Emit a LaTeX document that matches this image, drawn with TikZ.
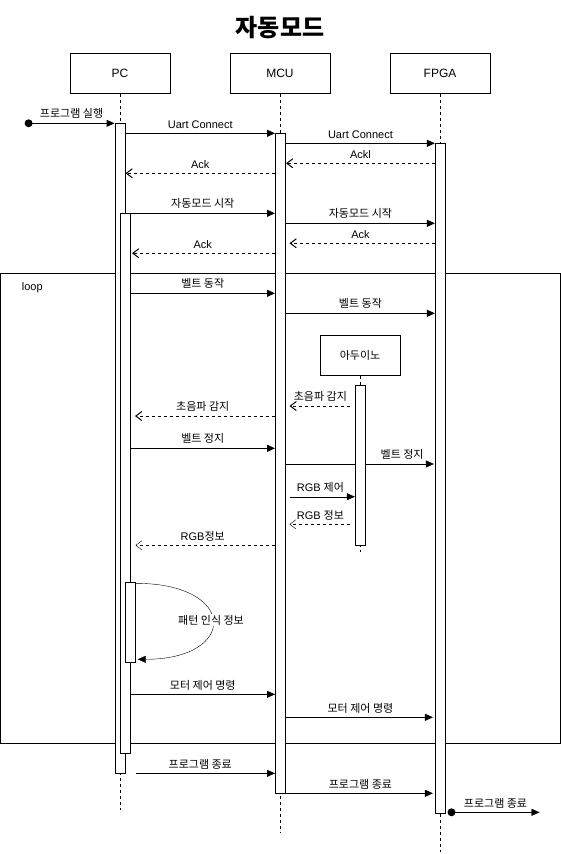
\documentclass[tikz,border=0pt]{standalone}
\usepackage{fontspec}
\setmainfont{Liberation Sans}
\newfontfamily\kr{Noto Sans CJK KR}
\usetikzlibrary{arrows.meta,backgrounds}

\begin{document}
\begin{tikzpicture}[x=1pt, y=-1pt, line width=1pt,
  font=\fontsize{11}{13}\selectfont,
  header/.style={draw, minimum width=100pt, minimum height=40pt, inner sep=0pt, font=\fontsize{12}{14}\selectfont},
  life/.style={dash pattern=on 3pt off 3pt},
  act/.style={draw, fill=white, minimum width=10pt, inner sep=0pt, anchor=north},
  msg/.style={-{Triangle[length=8pt,width=7pt]}},
  reply/.style={dash pattern=on 3pt off 3pt, -{Straight Barb[length=6pt,width=9pt]}},
  lbl/.style={above=4pt, inner sep=0pt},
  kor/.style={font=\kr\fontsize{11}{13}\selectfont}]

\useasboundingbox (0,0) rectangle (561,854);

% Title
\node[font=\kr\fontsize{24}{28}\selectfont\bfseries] (title) at (280,28) {자동모드};

% Participants
\foreach \name/\x/\txt in {pc/120/PC, mcu/280/MCU, fpga/440/FPGA} {
  \node[header] (\name) at (\x,73) {\txt};
}

% Loop Frame
\draw (0.5,273.3) rectangle (560,743.3);
\node[anchor=west] (looplbl) at (18,288) {loop};

% Lifelines
\draw[life] (pc.south) -- (pc.south |- 0,810);
\draw[life] (mcu.south) -- (mcu.south |- 0,833);
\draw[life] (fpga.south) -- (fpga.south |- 0,852);

% Arduino (inside the loop)
\node[header, minimum width=80pt, kor] (ard) at (360,355) {아두이노};
\draw[life] (ard.south) -- (ard.south |- 0,552);

% Activation Bars
\node[act, minimum height=650pt] (pcA1) at (120,123.3) {};
\node[act, minimum height=540pt] (pcA2) at (125,213.3) {};
\node[act, minimum height=80pt] (pcA3) at (130,582.3) {};
\node[act, minimum height=660pt] (mcuA) at (280.5,133.3) {};
\node[act, minimum height=670pt] (fpgaA) at (440.4,143.3) {};
\node[act, minimum height=160pt] (ardA) at (360.3,385.3) {};

% Start / End Points
\coordinate (startpt) at (28.6,123.3);
\coordinate (endpt) at (451.5,812.3);
\coordinate (exitpt) at (539.5,812.3);
\fill (startpt) circle (4pt);
\fill (endpt) circle (4pt);

% Connect
\draw[msg] (startpt) -- node[lbl, kor] {프로그램 실행} (pcA1.west |- startpt);
\draw[msg] (pcA1.east |- 0,133.3) -- node[lbl] {Uart Connect} (mcuA.west |- 0,133.3);
\draw[msg] (mcuA.east |- 0,143.3) -- node[lbl] {Uart Connect} (fpgaA.west |- 0,143.3);
\draw[reply] (fpgaA.west |- 0,163.3) -- node[lbl] {Ackl} (mcuA.east |- 0,163.3);
\draw[reply] (mcuA.west |- 0,173.3) -- node[lbl] {Ack} (pcA1.east |- 0,173.3);

% Auto Mode Start
\draw[msg] (pcA2.east |- 0,213.3) -- node[lbl, kor] {자동모드 시작} (mcuA.west |- 0,213.3);
\draw[msg] (mcuA.east |- 0,223.3) -- node[lbl, kor] {자동모드 시작} (fpgaA.west |- 0,223.3);
\draw[reply, shorten >=3.5pt] (fpgaA.west |- 0,243.3) -- node[lbl] {Ack} (mcuA.east |- 0,243.3);
\draw[reply, shorten >=1.5pt] (mcuA.west |- 0,253.3) -- node[lbl] {Ack} (pcA2.east |- 0,253.3);

% Loop Body
\draw[msg] (pcA2.east |- 0,293.3) -- node[lbl, kor] {벨트 동작} (mcuA.west |- 0,293.3);
\draw[msg] (mcuA.east |- 0,313.3) -- node[lbl, kor] {벨트 동작} (fpgaA.west |- 0,313.3);
\draw[reply, shorten <=5pt, shorten >=3.5pt] (ardA.west |- 0,406) -- node[lbl, kor] {초음파 감지} (mcuA.east |- 0,406);
\draw[reply, shorten >=4.5pt] (mcuA.west |- 0,416) -- node[lbl, kor] {초음파 감지} (pcA2.east |- 0,416);
\draw[msg] (pcA2.east |- 0,448.3) -- node[lbl, kor] {벨트 정지} (mcuA.west |- 0,448.3);
\begin{pgfonlayer}{background}
\draw[msg, shorten >=1pt] (mcuA.east |- 0,464) -- node[lbl, kor, pos=0.78] {벨트 정지} (fpgaA.west |- 0,464);
\end{pgfonlayer}
\draw[msg, shorten <=3.5pt] (mcuA.east |- 0,496.7) -- node[lbl] {RGB {\kr 제어}} (ardA.west |- 0,496.7);
\draw[reply, shorten <=5pt, shorten >=3.5pt] (ardA.west |- 0,524.3) -- node[lbl] {RGB {\kr 정보}} (mcuA.east |- 0,524.3);
\draw[reply, shorten >=5pt] (mcuA.west |- 0,545.3) -- node[lbl] {RGB{\kr 정보}} (pcA2.east |- 0,545.3);

% Self Call
\draw[msg] (pcA3.north east) ++(0,1) .. controls (238,583.3) and (238,659.3) .. (137.7,659.3);
\node[kor, fill=white, inner sep=1pt] (selflbl) at (211,620) {패턴 인식 정보};

\draw[msg] (pcA2.east |- 0,694.3) -- node[lbl, kor] {모터 제어 명령} (mcuA.west |- 0,694.3);
\draw[msg, shorten >=2pt] (mcuA.east |- 0,717.3) -- node[lbl, kor] {모터 제어 명령} (fpgaA.west |- 0,717.3);

% Program End
\draw[msg, shorten <=10pt] (pcA1.east |- 0,773.3) -- node[lbl, kor] {프로그램 종료} (mcuA.west |- 0,773.3);
\draw[msg, shorten >=2pt] (mcuA.east |- 0,793.3) -- node[lbl, kor] {프로그램 종료} (fpgaA.west |- 0,793.3);
\draw[msg] (endpt) -- node[lbl, kor] {프로그램 종료} (exitpt);

\end{tikzpicture}
\end{document}
